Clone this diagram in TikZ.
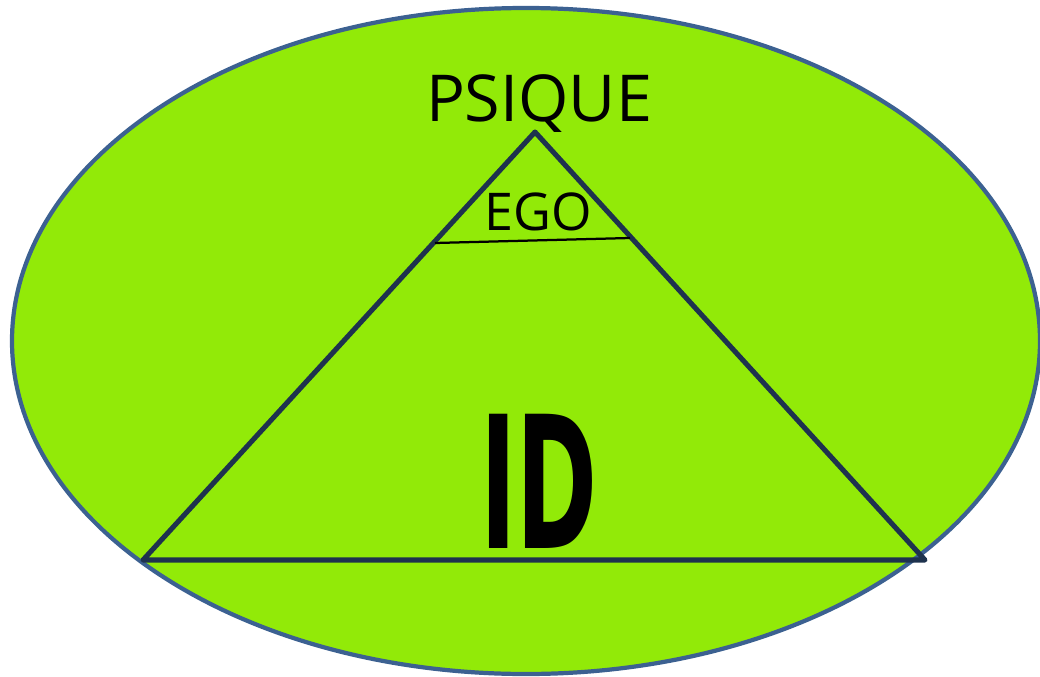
\documentclass[tikz,border=0pt]{standalone}
\usepackage{fontspec}
\setmainfont{Open Sans}
\newfontfamily\idfont{DejaVu Sans}
\usepackage{graphicx}
\usepackage{tikz}
\usetikzlibrary{calc}
\definecolor{psigreen}{RGB}{146,234,8}
\definecolor{psiblue}{RGB}{60,97,145}
\definecolor{psinavy}{RGB}{30,50,78}

\begin{document}
\begin{tikzpicture}[x=0.025cm, y=-0.025cm]
  \useasboundingbox (0,0) rectangle (1040,677);

  % Psique (ellipse)
  \fill[psigreen] (526,341) ellipse [x radius=514, y radius=333];
  \draw[psiblue, line width=3pt] (526,341) ellipse [x radius=514, y radius=333];
  \node[font=\fontsize{46}{50}\selectfont, inner sep=0pt] (psique) at (539,104) {PSIQUE};

  % Pyramide
  \coordinate (top) at (535,132);
  \coordinate (bl) at (143,560);
  \coordinate (br) at (925,560);
  \draw[psinavy, line width=3.6pt, line join=round] (top) -- (br) -- (bl) -- cycle;

  % Ego
  \draw[black, line width=1.6pt] (435,243) -- (630,238);
  \node[font=\fontsize{37}{40}\selectfont, inner sep=0pt] (ego) at (538,212) {EGO};

  % Id
  \node[font=\idfont\bfseries\fontsize{131}{131}\selectfont, inner sep=0pt, anchor=base]
      (id) at (539,548) {\scalebox{0.53}[1]{ID}};
\end{tikzpicture}
\end{document}
